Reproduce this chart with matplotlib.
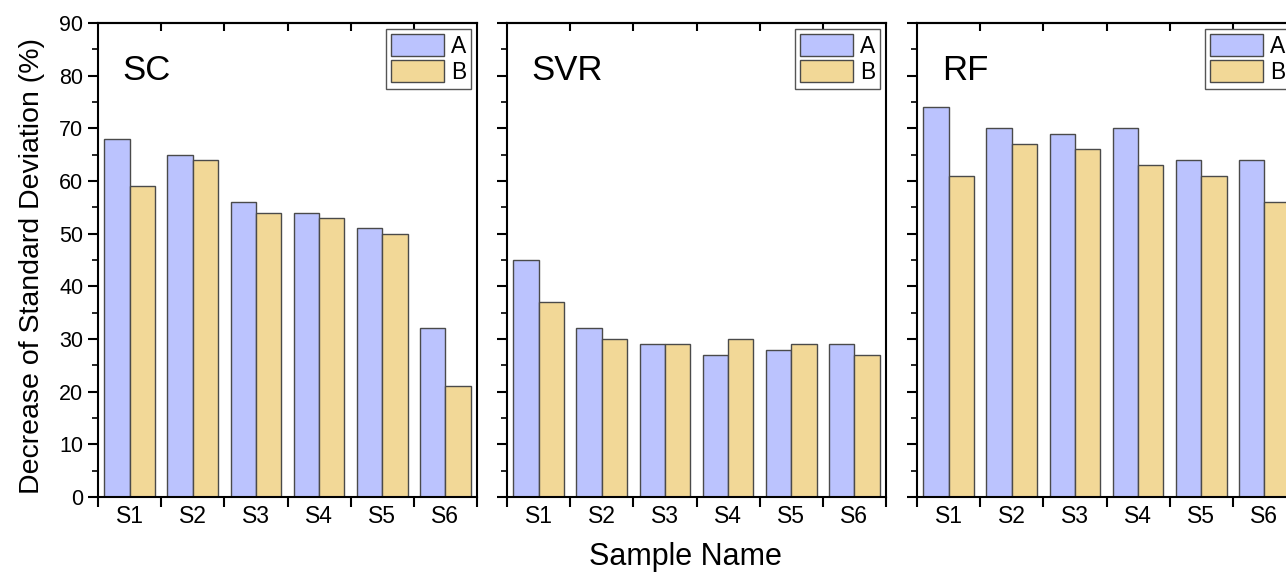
import matplotlib
matplotlib.use("Agg")
import matplotlib.pyplot as plt
from matplotlib.ticker import MultipleLocator, FixedLocator, NullFormatter, FixedFormatter
import numpy as np

plt.rcParams['font.family'] = ['Liberation Sans', 'DejaVu Sans']

samples = ["S1", "S2", "S3", "S4", "S5", "S6"]
panels = ["SC", "SVR", "RF"]
series_names = ["A", "B"]
sc_a = [68, 65, 56, 54, 51, 32]
sc_b = [59, 64, 54, 53, 50, 21]
svr_a = [45, 32, 29, 27, 28, 29]
svr_b = [37, 30, 29, 30, 29, 27]
rf_a = [74, 70, 69, 70, 64, 64]
rf_b = [61, 67, 66, 63, 61, 56]
data = [(sc_a, sc_b), (svr_a, svr_b), (rf_a, rf_b)]

col_a = "#BBC3FE"
col_b = "#F2D897"
edge = "#4a4a4a"

W, H = 1286, 573
fig = plt.figure(figsize=(W / 100, H / 100), dpi=100)

lefts = [98, 507, 917]
pw = 379
top, bottom = 23, 497

x = np.arange(len(samples)) + 0.5
bw = 0.4
for i, (name, (va, vb)) in enumerate(zip(panels, data)):
    ax = fig.add_axes([lefts[i] / W, 1 - bottom / H, pw / W, (bottom - top) / H])
    ax.bar(x - bw / 2, va, bw, color=col_a, edgecolor=edge, linewidth=1.0, label=series_names[0])
    ax.bar(x + bw / 2, vb, bw, color=col_b, edgecolor=edge, linewidth=1.0, label=series_names[1])
    ax.set_xlim(0, 6)
    ax.set_ylim(0, 90)
    ax.yaxis.set_major_locator(MultipleLocator(10))
    ax.yaxis.set_minor_locator(MultipleLocator(5))
    ax.xaxis.set_major_locator(FixedLocator(np.arange(0, 7)))
    ax.xaxis.set_major_formatter(NullFormatter())
    ax.xaxis.set_minor_locator(FixedLocator(x))
    ax.xaxis.set_minor_formatter(FixedFormatter(samples))
    ax.tick_params(axis='x', which='major', direction='out', length=7, width=1.5)
    ax.tick_params(axis='x', which='minor', length=0, labelsize=16.5, pad=6)
    ax.tick_params(axis='y', which='major', direction='out', length=7, width=1.5, labelsize=15.5)
    ax.tick_params(axis='y', which='minor', direction='out', length=4, width=1.2)
    if i > 0:
        ax.tick_params(axis='y', labelleft=False)
    sec = ax.secondary_xaxis('top')
    sec.set_xticks(np.arange(1, 6))
    sec.tick_params(direction='in', length=6, width=1.5, labeltop=False)
    sec.spines['top'].set_linewidth(1.5)
    for s in ax.spines.values():
        s.set_linewidth(1.5)
    ax.text(0.065, 0.935, name, transform=ax.transAxes, fontsize=25, va='top', ha='left')
    leg = ax.legend(loc='upper right', fontsize=16.5, fancybox=False, edgecolor='#555555',
                    handlelength=2.3, handleheight=1.1, labelspacing=0.12,
                    borderpad=0.22, handletextpad=0.3, borderaxespad=0.25, framealpha=1)
    leg.get_frame().set_linewidth(1.0)
    if i == 0:
        ax.set_ylabel("Decrease of Standard Deviation (%)", fontsize=20.5)
        ax.yaxis.set_label_coords(-0.14, 0.487)
    if i == 1:
        ax.set_xlabel("Sample Name", fontsize=22)
        ax.xaxis.set_label_coords(0.47, -0.095)

fig.savefig("out.png", dpi=100)
